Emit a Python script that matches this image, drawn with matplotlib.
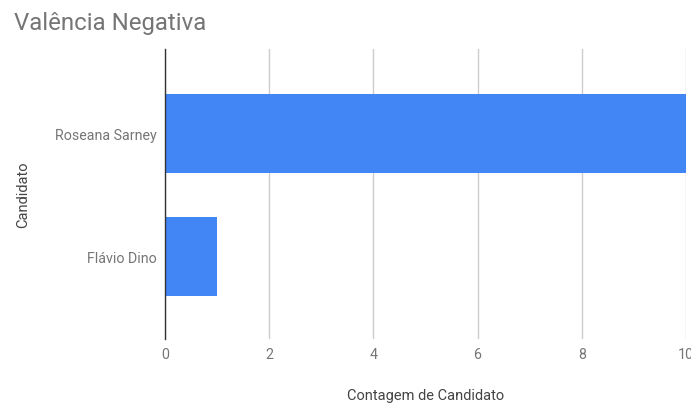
import matplotlib.pyplot as plt

plt.rcParams['font.family'] = ['Roboto', 'DejaVu Sans']

candidatos = ["Flávio Dino", "Roseana Sarney"]
contagem = [1, 10]
xticks = [0, 2, 4, 6, 8, 10]

BAR = "#4285f4"
TEXT = "#757575"
GRID = "#cccccc"

fig = plt.figure(figsize=(6.91, 4.06), dpi=100)
ax = fig.add_axes([165 / 691, 1 - 340 / 406, 521 / 691, 290 / 406])

ypos = list(range(len(candidatos)))
ax.barh(ypos, contagem, height=0.64, color=BAR, zorder=3)

ax.set_xlim(0, 10)
ax.set_ylim(-0.67, 1.687)
ax.set_xticks(xticks)
ax.set_xticklabels([str(t) for t in xticks])
ax.set_yticks(ypos)
ax.set_yticklabels(candidatos)

ax.tick_params(axis="both", length=0, labelsize=10.3, labelcolor=TEXT)
ax.tick_params(axis="x", pad=6)
ax.tick_params(axis="y", pad=6)
ax.grid(axis="x", color=GRID, linewidth=1, zorder=0)

for side in ("top", "right", "bottom"):
    ax.spines[side].set_visible(False)
ax.spines["left"].set_color("#333333")
ax.spines["left"].set_linewidth(1)
ax.spines["left"].set_zorder(4)

ax.set_xlabel("Contagem de Candidato", fontsize=10.5, color="#444444")
ax.xaxis.set_label_coords(0.5, -(396 - 340) / 290)
ax.xaxis.label.set_va("center")
ax.set_ylabel("Candidato", fontsize=10.5, color="#444444")
ax.yaxis.set_label_coords(-(165 - 23) / 521, 0.5)
ax.yaxis.label.set_va("center")

fig.text(14 / 691, 1 - 30 / 406, "Valência Negativa", fontsize=17.3, color=TEXT,
         ha="left", va="baseline")

fig.savefig("out.png", dpi=100, facecolor="white")
